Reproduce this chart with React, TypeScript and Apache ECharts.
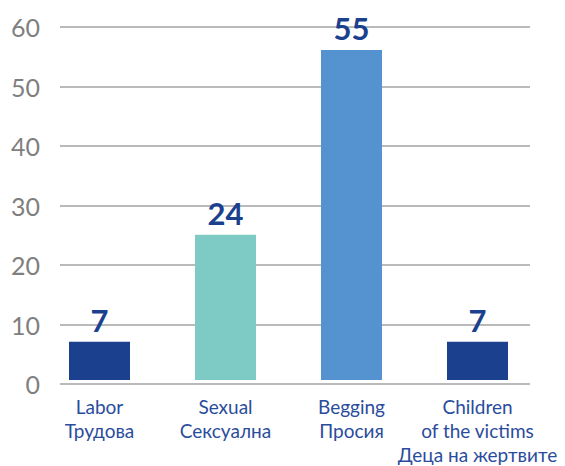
import React, { useEffect, useRef } from "react";
import * as echarts from "echarts";

const categories = ["Labor\nТрудова", "Sexual\nСексуална", "Begging\nПросия", "Children\nof the victims\nДеца на жертвите"];
const barValues = [6.5, 24.7, 56.1, 6.5];
const valueLabels = ["7", "24", "55", "7"];
const barColors = ["#1a408e", "#7ecac4", "#5593d0", "#1a408e"];
const yTicks = [0, 10, 20, 30, 40, 50, 60];

export default function App() {
  const ref = useRef<HTMLDivElement>(null);
  useEffect(() => {
    if (!ref.current) return;
    const chart = echarts.init(ref.current, null, { renderer: "svg" });
    const yMin = yTicks[0];
    const yMax = yTicks[yTicks.length - 1];
    const yInt = yTicks[1] - yTicks[0];
    chart.setOption({
      animation: false,
      backgroundColor: "#ffffff",
      grid: [
        { left: 60, right: 35, top: 27, bottom: 82 },
        { left: 36.5, right: 24.5, top: 27, bottom: 82 },
      ],
      xAxis: [
        { type: "category", gridIndex: 0, data: categories, show: false },
        {
          type: "category",
          gridIndex: 1,
          data: categories,
          axisLine: { show: false },
          axisTick: { show: false },
          axisLabel: {
            interval: 0,
            color: "#2a4c9c",
            fontFamily: "Lato",
            fontSize: 19,
            lineHeight: 24,
            margin: 14,
          },
        },
      ],
      yAxis: [
        {
          type: "value",
          gridIndex: 0,
          min: yMin,
          max: yMax,
          interval: yInt,
          axisLine: { show: false },
          axisTick: { show: false },
          axisLabel: {
            color: "#7f7f7f",
            fontFamily: "Lato",
            fontSize: 25,
            margin: 20,
          },
          splitLine: { lineStyle: { color: "#a3a3a3", width: 1.5 } },
        },
        {
          type: "value",
          gridIndex: 1,
          min: yMin,
          max: yMax,
          interval: yInt,
          show: false,
          splitLine: { show: false },
        },
      ],
      series: [
        {
          type: "bar",
          xAxisIndex: 1,
          yAxisIndex: 1,
          barWidth: 61,
          data: barValues.map((v, i) => ({ value: v, itemStyle: { color: barColors[i] } })),
          label: {
            show: true,
            position: "top",
            distance: 6,
            formatter: (p: any) => valueLabels[p.dataIndex],
            color: "#1a408e",
            fontFamily: "Lato",
            fontWeight: "bold",
            fontSize: 31,
          },
        },
      ],
    });
    return () => chart.dispose();
  }, []);
  return (
    <div
      ref={ref}
      style={{ position: "fixed", left: 0, top: 0, width: 565, height: 466 }}
    />
  );
}
